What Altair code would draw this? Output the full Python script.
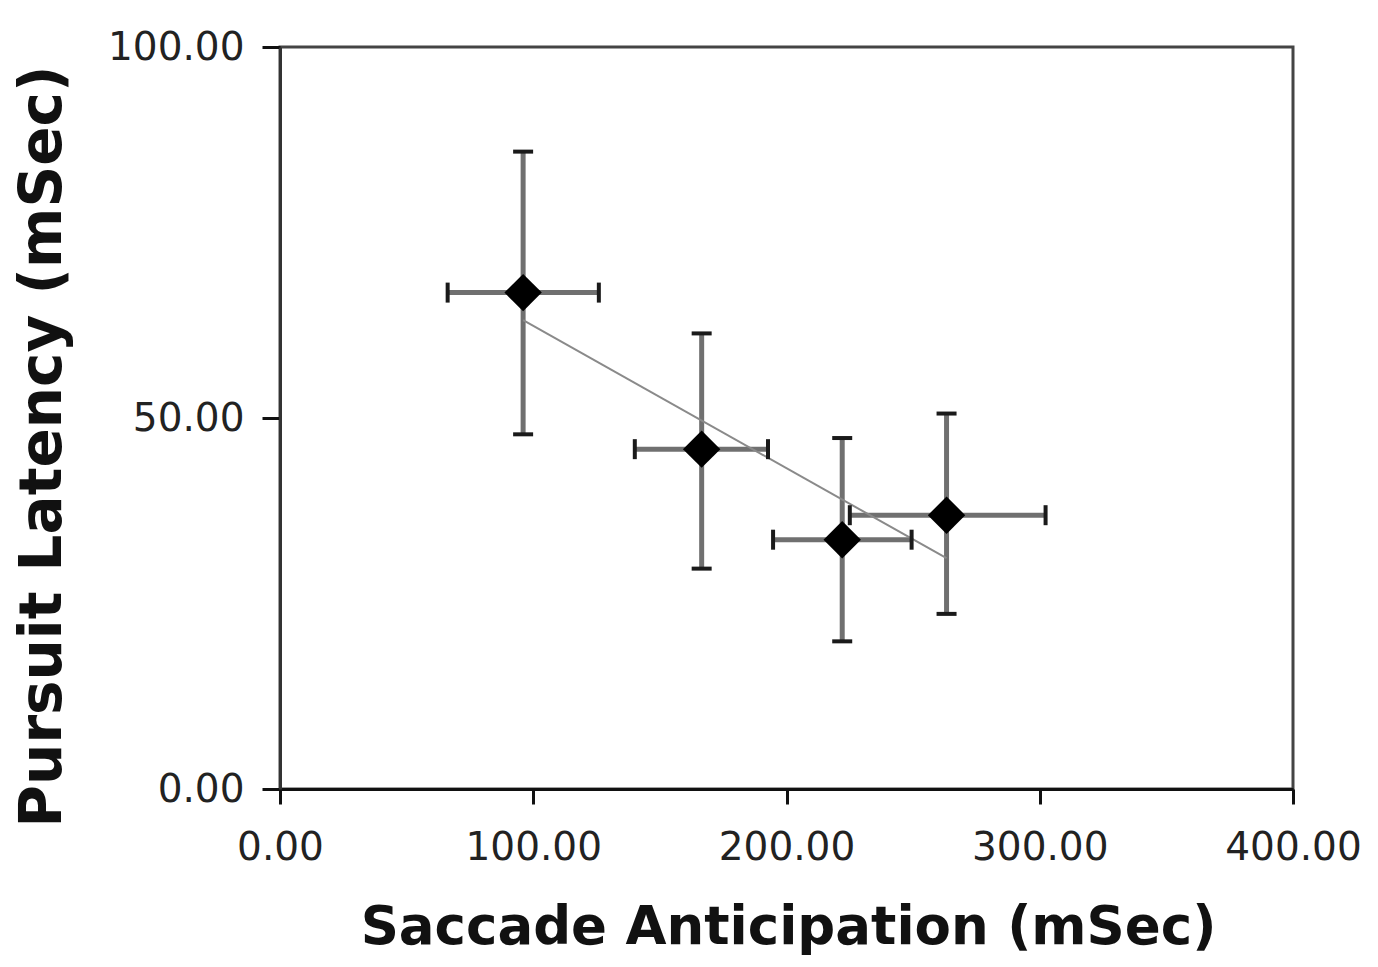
import altair as alt
import pandas as pd

# Data
saccade = [96.0, 166.5, 222.0, 263.2]
latency = [66.9, 45.8, 33.6, 36.9]
saccade_lo = [66.2, 140.1, 194.7, 225.0]
saccade_hi = [125.9, 192.7, 249.4, 302.3]
latency_lo = [47.8, 29.7, 19.9, 23.6]
latency_hi = [85.9, 61.4, 47.3, 50.6]
trend_x = [96.0, 263.2]
trend_y = [63.2, 31.1]
x_ticks = [0, 100, 200, 300, 400]
y_ticks = [0, 50, 100]

df = pd.DataFrame({
    "x": saccade, "y": latency,
    "xlo": saccade_lo, "xhi": saccade_hi,
    "ylo": latency_lo, "yhi": latency_hi,
})
trend = pd.DataFrame({"x": trend_x, "y": trend_y})

FONT = "DejaVu Sans"
xscale = alt.Scale(domain=[0, 400], nice=False, zero=False)
yscale = alt.Scale(domain=[0, 100], nice=False, zero=False)

xaxis = alt.Axis(
    values=x_ticks, format=".2f", title="Saccade Anticipation (mSec)",
    grid=False, domainColor="#111", domainWidth=3, tickColor="#111", tickWidth=3,
    tickSize=15, labelFont=FONT, labelFontSize=39, labelColor="#222", labelPadding=24,
    titleFont=FONT, titleFontSize=53, titleFontWeight="bold", titleColor="#111",
    titleX=508, titleY=138, titleAlign="center", titleBaseline="middle",
    labelFlush=False,
)
yaxis = alt.Axis(
    values=y_ticks, format=".2f", title="Pursuit Latency (mSec)",
    grid=False, domainColor="#333", domainWidth=3, tickColor="#111", tickWidth=3,
    tickSize=18, labelFont=FONT, labelFontSize=39, labelColor="#222", labelPadding=18,
    titleFont=FONT, titleFontSize=58, titleFontWeight="bold", titleColor="#111",
    titleX=-237, titleY=399, titleAlign="center", titleBaseline="middle", titleAngle=270,
    labelFlush=False,
)

base = alt.Chart(df)

vbar = base.mark_rule(color="#707070", strokeWidth=5).encode(
    x=alt.X("x:Q", scale=xscale, axis=xaxis),
    y=alt.Y("ylo:Q", scale=yscale, axis=yaxis),
    y2="yhi:Q",
)
hbar = base.mark_rule(color="#707070", strokeWidth=5).encode(
    x=alt.X("xlo:Q", scale=xscale), x2="xhi:Q",
    y=alt.Y("y:Q", scale=yscale),
)
trend_line = alt.Chart(trend).mark_line(color="#8a8a8a", strokeWidth=2).encode(
    x=alt.X("x:Q", scale=xscale), y=alt.Y("y:Q", scale=yscale)
)
cap_style = dict(color="#1a1a1a", thickness=4, size=20, opacity=1)
cap_ylo = base.mark_tick(orient="horizontal", **cap_style).encode(
    x=alt.X("x:Q", scale=xscale), y=alt.Y("ylo:Q", scale=yscale))
cap_yhi = base.mark_tick(orient="horizontal", **cap_style).encode(
    x=alt.X("x:Q", scale=xscale), y=alt.Y("yhi:Q", scale=yscale))
cap_xlo = base.mark_tick(orient="vertical", **cap_style).encode(
    x=alt.X("xlo:Q", scale=xscale), y=alt.Y("y:Q", scale=yscale))
cap_xhi = base.mark_tick(orient="vertical", **cap_style).encode(
    x=alt.X("xhi:Q", scale=xscale), y=alt.Y("y:Q", scale=yscale))
points = base.mark_point(shape="diamond", filled=True, color="#000", size=1400, opacity=1).encode(
    x=alt.X("x:Q", scale=xscale), y=alt.Y("y:Q", scale=yscale))

chart = alt.layer(vbar, hbar, trend_line, cap_ylo, cap_yhi, cap_xlo, cap_xhi, points).properties(
    width=1013, height=742,
    autosize=alt.AutoSizeParams(type="none"),
    padding={"left": 272, "top": 39, "right": 70, "bottom": 170},
    background="white",
).configure_view(
    stroke="#444", strokeWidth=3
)

chart.save("out.html", embed_options={"renderer": "svg", "actions": False})
